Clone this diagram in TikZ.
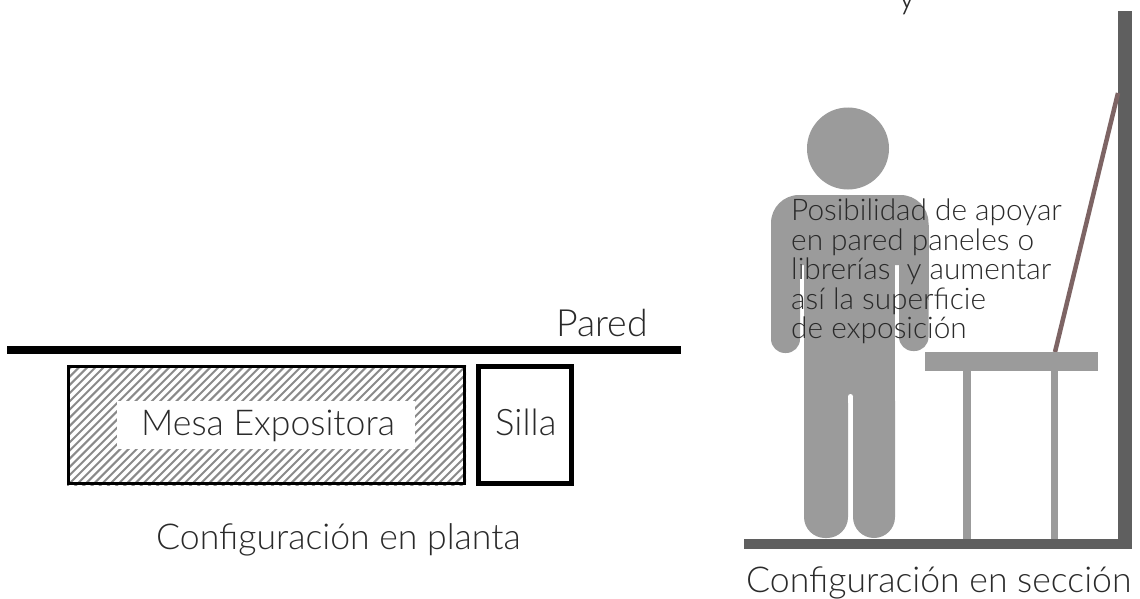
\documentclass[tikz,border=0pt]{standalone}
\usepackage{fontspec}
\setmainfont{Lato Light}
\definecolor{darkbar}{HTML}{5F5F5F}
\definecolor{persongray}{HTML}{9B9B9B}
\definecolor{panelcol}{HTML}{7D6464}
\definecolor{ink}{HTML}{2A2A2A}
\definecolor{hatchcol}{HTML}{8A8A8A}
\tikzset{
  lbl/.style={inner sep=0pt,anchor=base west,text=ink,font=\fontsize{35.6}{36}\selectfont},
  para/.style={inner sep=0pt,anchor=base west,text=ink,font=\fontsize{29.8}{30}\selectfont},
  bar/.style={fill=darkbar},
  person/.style={fill=persongray},
}
\begin{document}
\begin{tikzpicture}[x=1pt,y=-1pt]
\useasboundingbox (0,0) rectangle (1140,599);
\fill[white] (0,0) rectangle (1140,599);
% plan
\fill[black] (7,346) rectangle (680.5,354);
\begin{scope}
\clip (67,365) rectangle (466,485);
\foreach \i in {0,...,68}{
  \draw[hatchcol,line width=2] ({-60+8.2*\i},490) -- ({-60+8.2*\i+130},360);
}
\end{scope}
\draw[black,line width=3] (68.5,366.5) rectangle (464.5,483.5);
\fill[white] (117,401) rectangle (415,449);
\draw[black,line width=5] (478.5,366.5) rectangle (571.5,483.5);
\node[lbl,font=\fontsize{37.5}{38}\selectfont] (pared) at (556,336) {Pared};
\node[lbl] (mesa) at (141,435) {Mesa Expositora};
\node[lbl,font=\fontsize{36.5}{38}\selectfont] (silla) at (495,435) {Silla};
\node[lbl] (planta) at (156,549) {Configuración en planta};
% section: wall, floor
\fill[bar] (1118,11) rectangle (1132,549);
\fill[bar] (743.5,539) rectangle (1132,549);
\draw[panelcol,line width=4.5] (1055,352) -- (1118,93);
% person
\fill[person] (848,148.5) circle[radius=41];
\path[person,rounded corners=28] (771,265) -- (771,195) -- (928.5,195) -- (928.5,265) -- cycle;
\fill[person] (771,225) rectangle (800,300);
\fill[person] (899,225) rectangle (928.5,300);
\path[person,rounded corners=14] (771,280) -- (771,353) -- (800,353) -- (800,280) -- cycle;
\path[person,rounded corners=14] (899,280) -- (899,351) -- (928.5,351) -- (928.5,280) -- cycle;
\path[person,rounded corners=21] (804,380) -- (804,538) -- (848,538) -- (848,380) -- cycle;
\path[person,rounded corners=21] (853,380) -- (853,538) -- (895,538) -- (895,380) -- cycle;
\fill[person] (804,240) rectangle (895,402);
\fill[white] (850.5,396.5) circle[radius=2.5];
\fill[white] (848,396.5) rectangle (853,403);
% table
\fill[person] (925,352) rectangle (1098,371);
\fill[person] (963,371) rectangle (971,539);
\fill[person] (1051,371) rectangle (1058,539);
% text
\node[para] (t1) at (791,220) {Posibilidad de apoyar};
\node[para] (t2) at (791,250) {en pared paneles o};
\node[para] (t3) at (791,279) {librerías\ \ y aumentar};
\node[para] (t4) at (791,309) {así la superficie};
\node[para] (t5) at (791,338) {de exposición};
\node[lbl] (seccion) at (746,592) {Configuración en sección};
\node[lbl,anchor=base,font=\fontsize{36}{36}\selectfont] (ytop) at (907,9) {y};
\end{tikzpicture}
\end{document}
